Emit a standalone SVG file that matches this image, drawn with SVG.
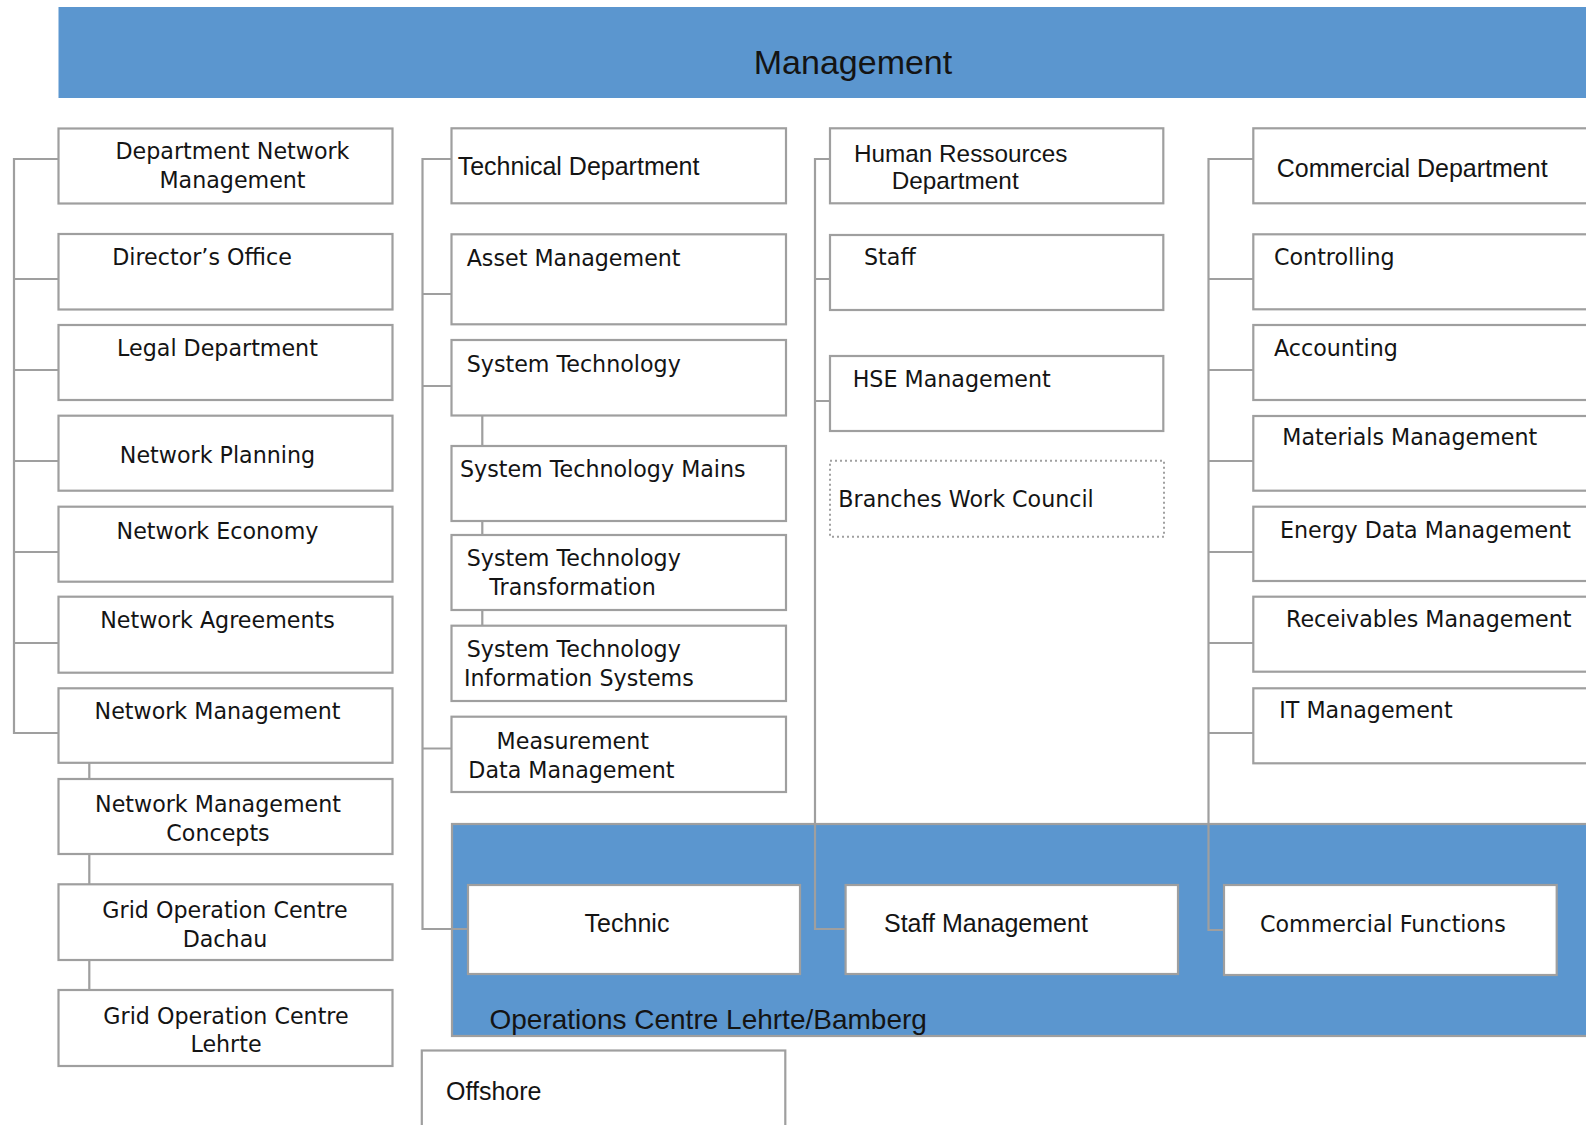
<svg xmlns="http://www.w3.org/2000/svg" width="1586" height="1125" viewBox="0 0 1586 1125">
<style>
.b{fill:#fff;stroke:#9f9f9f;stroke-width:2.2}
.d{fill:#fff;stroke:#a0a0a0;stroke-width:2;stroke-dasharray:2 3}
.t{font-family:"DejaVu Sans",Verdana,sans-serif;font-size:22.2px;fill:#141414}
.c{font-family:"Liberation Sans",Arial,sans-serif;font-size:25px;fill:#141414}
.m{text-anchor:middle}
.ln{fill:none;stroke:#9f9f9f;stroke-width:2.2}
</style>
<rect width="1586" height="1125" fill="#fff"/>
<g id="management">
<rect x="58.5" y="7" width="1540" height="91" fill="#5B96CF"/>
<text class="c m" x="853" y="74" style="font-size:34px">Management</text>
</g>
<g id="ops-centre">
<rect x="452" y="824" width="1150" height="212" fill="#5B96CF" stroke="#9f9f9f" stroke-width="2.2"/>
<text class="c" x="489.5" y="1028.5" style="font-size:28px">Operations Centre Lehrte/Bamberg</text>
</g>
<g id="connectors" class="ln">
<path d="M58.5 159H14V733H58.5M14 279H58.5M14 370H58.5M14 461H58.5M14 552H58.5M14 643H58.5"/>
<path d="M89.3 763V779M89.3 854V884M89.3 960V990"/>
<path d="M451 159H422.5V929H468M422.5 294H451M422.5 386H451M422.5 748.5H451"/>
<path d="M482.3 416V446M482.3 521V535M482.3 610V626"/>
<path d="M830 159H815V929H845.6M815 279H830M815 401H830"/>
<path d="M1253 159H1208.5V930H1224M1208.5 279H1253M1208.5 370H1253M1208.5 461H1253M1208.5 552H1253M1208.5 643H1253M1208.5 733H1253"/>
</g>
<g id="dept-network-management"><rect class="b" x="58.5" y="128.5" width="334" height="75"/><text class="t m" x="232.5" y="159">Department Network</text><text class="t m" x="232.5" y="188">Management</text></g>
<g id="directors-office"><rect class="b" x="58.5" y="234" width="334" height="75.5"/><text class="t m" x="202" y="265">Director’s Office</text></g>
<g id="legal-department"><rect class="b" x="58.5" y="325" width="334" height="75"/><text class="t m" x="217.5" y="356">Legal Department</text></g>
<g id="network-planning"><rect class="b" x="58.5" y="415.7" width="334" height="75"/><text class="t m" x="217.5" y="463">Network Planning</text></g>
<g id="network-economy"><rect class="b" x="58.5" y="506.7" width="334" height="75"/><text class="t m" x="217.5" y="538.5">Network Economy</text></g>
<g id="network-agreements"><rect class="b" x="58.5" y="596.7" width="334" height="76"/><text class="t m" x="217.5" y="628.3">Network Agreements</text></g>
<g id="network-management"><rect class="b" x="58.5" y="688.3" width="334" height="74.5"/><text class="t m" x="217.5" y="719.3">Network Management</text></g>
<g id="network-management-concepts"><rect class="b" x="58.5" y="779" width="334" height="75"/><text class="t m" x="218" y="812.3">Network Management</text><text class="t m" x="218" y="841">Concepts</text></g>
<g id="grid-dachau"><rect class="b" x="58.5" y="884.3" width="334" height="75.7"/><text class="t m" x="225" y="918.3">Grid Operation Centre</text><text class="t m" x="225" y="946.7">Dachau</text></g>
<g id="grid-lehrte"><rect class="b" x="58.5" y="990" width="334" height="76"/><text class="t m" x="226" y="1024.3">Grid Operation Centre</text><text class="t m" x="226" y="1052.3">Lehrte</text></g>
<g id="technical-department"><rect class="b" x="451.5" y="128.3" width="334.5" height="75"/><text class="c" x="457.7" y="175">Technical Department</text></g>
<g id="asset-management"><rect class="b" x="451.5" y="234.3" width="334.5" height="90"/><text class="t" x="466.7" y="265.7">Asset Management</text></g>
<g id="system-technology"><rect class="b" x="451.5" y="340" width="334.5" height="75.5"/><text class="t" x="466.7" y="371.7">System Technology</text></g>
<g id="system-technology-mains"><rect class="b" x="451.5" y="446" width="334.5" height="75"/><text class="t" x="460" y="477.3">System Technology Mains</text></g>
<g id="system-technology-transformation"><rect class="b" x="451.5" y="535" width="334.5" height="75"/><text class="t" x="466.7" y="566">System Technology</text><text class="t" x="489.3" y="595">Transformation</text></g>
<g id="system-technology-is"><rect class="b" x="451.5" y="625.7" width="334.5" height="75.3"/><text class="t" x="466.7" y="657.3">System Technology</text><text class="t" x="464" y="686">Information Systems</text></g>
<g id="measurement-data-management"><rect class="b" x="451.5" y="716.7" width="334.5" height="75.3"/><text class="t" x="496.6" y="748.5">Measurement</text><text class="t" x="468.3" y="778">Data Management</text></g>
<g id="offshore"><rect class="b" x="421.8" y="1050.5" width="363.5" height="90"/><text class="c" x="446" y="1099.5">Offshore</text></g>
<g id="human-resources"><rect class="b" x="830" y="128.3" width="333.3" height="75"/><text class="c" x="854" y="161.7" style="font-size:24.3px">Human Ressources</text><text class="c" x="891.7" y="189.3" style="font-size:24.3px">Department</text></g>
<g id="staff"><rect class="b" x="830" y="235" width="333.3" height="75"/><text class="t" x="864" y="265">Staff</text></g>
<g id="hse-management"><rect class="b" x="830" y="356" width="333.3" height="75"/><text class="t" x="852.7" y="386.7">HSE Management</text></g>
<g id="branches-work-council"><rect class="d" x="830" y="460.7" width="334" height="76"/><text class="t" x="838.3" y="507.3">Branches Work Council</text></g>
<g id="commercial-department"><rect class="b" x="1253.3" y="128.3" width="350" height="75"/><text class="c" x="1276.7" y="176.7">Commercial Department</text></g>
<g id="controlling"><rect class="b" x="1253.3" y="234.3" width="350" height="75"/><text class="t" x="1274" y="265">Controlling</text></g>
<g id="accounting"><rect class="b" x="1253.3" y="325" width="350" height="75"/><text class="t" x="1274" y="355.7">Accounting</text></g>
<g id="materials-management"><rect class="b" x="1253.3" y="416" width="350" height="74.7"/><text class="t" x="1282.3" y="445">Materials Management</text></g>
<g id="energy-data-management"><rect class="b" x="1253.3" y="506.7" width="350" height="74.3"/><text class="t" x="1280" y="538.3">Energy Data Management</text></g>
<g id="receivables-management"><rect class="b" x="1253.3" y="596.7" width="350" height="75"/><text class="t" x="1286" y="627.3">Receivables Management</text></g>
<g id="it-management"><rect class="b" x="1253.3" y="688.3" width="350" height="75"/><text class="t" x="1279.3" y="718.3">IT Management</text></g>
<g id="technic"><rect class="b" x="468" y="885" width="332" height="89"/><text class="c m" x="627" y="931.5">Technic</text></g>
<g id="staff-management"><rect class="b" x="845.6" y="885" width="332.4" height="89"/><text class="c" x="884" y="931.5">Staff Management</text></g>
<g id="commercial-functions"><rect class="b" x="1224" y="885" width="332.7" height="90"/><text class="t" x="1260" y="932.3">Commercial Functions</text></g>
</svg>
